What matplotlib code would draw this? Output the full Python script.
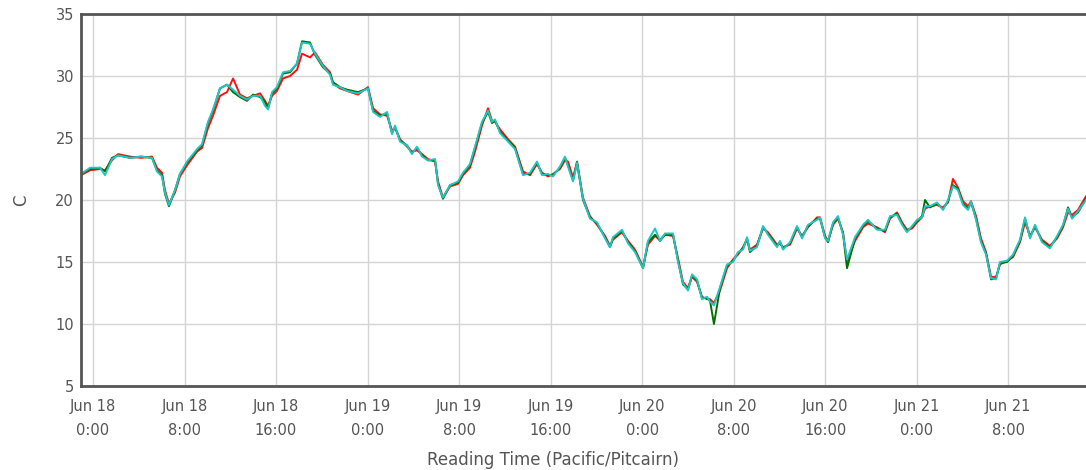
import datetime as dt
import matplotlib
matplotlib.use("Agg")
import matplotlib.pyplot as plt
import matplotlib.dates as mdates
from matplotlib.ticker import FuncFormatter, MultipleLocator

# hours after Jun 18 0:00
hours = [-1.05, -0.26, 0.61, 1.05, 1.66, 2.19, 3.23, 4.20, 5.16, 5.59,
         6.03, 6.29, 6.64, 7.17, 7.60, 8.22, 9.09, 9.53, 10.05, 10.49,
         11.10, 11.71, 12.24, 12.85, 13.46, 13.99, 14.60, 15.03, 15.30, 15.65,
         16.08, 16.61, 17.22, 17.83, 18.27, 18.97, 19.41, 20.10, 20.72, 20.98,
         21.59, 22.20, 23.16, 24.04, 24.48, 25.09, 25.70, 26.14, 26.40, 26.84,
         27.45, 27.88, 28.32, 28.76, 29.28, 29.90, 30.16, 30.59, 31.21, 31.91,
         32.34, 32.95, 33.39, 34.00, 34.53, 34.88, 35.14, 35.58, 36.28, 36.89,
         37.59, 38.20, 38.81, 39.25, 39.77, 40.21, 40.82, 41.26, 41.52, 41.96,
         42.31, 42.83, 43.44, 44.06, 44.76, 45.19, 45.45, 46.24, 46.77, 47.38,
         48.08, 48.51, 49.13, 49.56, 50.00, 50.70, 51.14, 51.57, 52.01, 52.36,
         52.80, 53.23, 53.67, 53.93, 54.28, 54.81, 55.42, 55.94, 56.38, 56.82,
         57.17, 57.43, 58.04, 58.57, 59.00, 59.79, 60.05, 60.31, 60.93, 61.54,
         61.98, 62.50, 63.29, 63.55, 63.99, 64.25, 64.69, 65.12, 65.56, 65.91,
         66.61, 67.31, 67.74, 68.53, 69.23, 69.67, 70.28, 70.72, 71.15, 71.59,
         72.03, 72.47, 72.73, 73.16, 73.78, 74.30, 74.74, 75.17, 75.61, 76.05,
         76.49, 76.75, 77.19, 77.62, 78.06, 78.50, 78.94, 79.28, 79.90, 80.42,
         81.03, 81.47, 81.91, 82.34, 82.95, 83.65, 84.27, 84.79, 85.23, 85.58,
         86.10, 86.80]

green = [22.1, 22.5, 22.6, 22.3, 23.4, 23.6, 23.4, 23.5, 23.4, 22.4,
         22.0, 20.5, 19.5, 20.8, 22.1, 23.0, 24.0, 24.4, 26.2, 27.2,
         29.0, 29.3, 28.7, 28.3, 28.0, 28.5, 28.3, 27.9, 27.4, 28.6,
         29.0, 30.2, 30.3, 31.0, 32.8, 32.7, 31.7, 30.7, 30.2, 29.5,
         29.1, 28.9, 28.7, 29.0, 27.2, 26.8, 27.0, 25.4, 25.9, 24.8,
         24.4, 23.8, 24.2, 23.6, 23.2, 23.2, 21.3, 20.1, 21.2, 21.4,
         22.1, 22.8, 24.2, 26.2, 27.1, 26.2, 26.4, 25.5, 24.8, 24.2,
         22.1, 22.1, 23.0, 22.1, 22.0, 22.0, 22.6, 23.4, 22.8, 21.6,
         23.0, 20.0, 18.6, 18.1, 17.0, 16.2, 16.9, 17.5, 16.6, 15.9,
         14.5, 16.6, 17.2, 16.7, 17.2, 17.2, 15.1, 13.2, 12.8, 13.9,
         13.5, 12.1, 12.1, 11.9, 10.0, 12.9, 14.7, 15.1, 15.7, 16.1,
         16.9, 15.8, 16.3, 17.8, 17.3, 16.3, 16.6, 16.1, 16.5, 17.8,
         17.0, 17.9, 18.5, 18.5, 17.0, 16.6, 18.1, 18.6, 17.3, 14.5,
         16.9, 17.9, 18.3, 17.7, 17.5, 18.6, 18.9, 18.1, 17.5, 17.8,
         18.3, 18.7, 20.0, 19.4, 19.7, 19.3, 19.9, 21.2, 20.9, 19.7,
         19.3, 19.8, 18.5, 16.7, 15.7, 13.6, 13.7, 14.9, 15.0, 15.5,
         16.7, 18.5, 17.0, 17.9, 16.7, 16.2, 17.0, 17.9, 19.4, 18.6,
         19.0, 20.1]

red = [22.0, 22.4, 22.5, 22.4, 23.2, 23.7, 23.5, 23.4, 23.5, 22.6,
       22.2, 20.8, 19.7, 20.6, 21.9, 22.8, 23.9, 24.2, 25.8, 26.8,
       28.4, 28.7, 29.8, 28.5, 28.2, 28.4, 28.6, 28.0, 27.6, 28.4,
       28.8, 29.8, 30.0, 30.5, 31.8, 31.5, 31.9, 30.9, 30.3, 29.4,
       29.0, 28.8, 28.5, 29.1, 27.4, 26.9, 26.8, 25.6, 25.8, 24.9,
       24.3, 23.9, 24.0, 23.7, 23.3, 23.1, 21.5, 20.2, 21.1, 21.3,
       22.0, 22.6, 23.9, 26.0, 27.4, 26.4, 26.3, 25.7, 24.9, 24.3,
       22.3, 22.0, 22.9, 22.2, 21.9, 22.1, 22.5, 23.2, 23.1, 21.8,
       23.1, 20.2, 18.7, 18.0, 17.1, 16.3, 16.8, 17.4, 16.7, 16.0,
       14.6, 16.4, 17.1, 16.8, 17.2, 17.1, 15.3, 13.4, 12.9, 13.8,
       13.4, 12.2, 12.0, 12.0, 11.7, 12.7, 14.5, 15.2, 15.6, 16.2,
       16.8, 16.0, 16.4, 17.7, 17.4, 16.4, 16.5, 16.2, 16.4, 17.7,
       17.1, 17.8, 18.6, 18.6, 17.1, 16.7, 18.0, 18.5, 17.4, 15.0,
       16.7, 17.8, 18.1, 17.8, 17.4, 18.5, 19.0, 18.2, 17.6, 17.7,
       18.2, 18.6, 19.3, 19.5, 19.6, 19.4, 19.8, 21.7, 21.0, 19.9,
       19.5, 19.9, 18.7, 16.9, 15.8, 13.8, 13.8, 14.8, 15.1, 15.4,
       16.6, 18.2, 17.1, 17.8, 16.8, 16.3, 16.9, 17.8, 19.0, 18.8,
       19.2, 20.3]

cyan = [22.1, 22.6, 22.6, 22.0, 23.3, 23.6, 23.4, 23.5, 23.4, 22.3,
        21.9, 20.6, 19.6, 20.8, 22.1, 23.1, 24.1, 24.5, 26.3, 27.3,
        29.0, 29.3, 28.9, 28.4, 28.1, 28.4, 28.4, 27.6, 27.3, 28.7,
        29.1, 30.3, 30.4, 31.0, 32.7, 32.6, 31.8, 30.8, 30.1, 29.3,
        29.1, 28.8, 28.6, 29.0, 27.1, 26.7, 27.1, 25.3, 26.0, 24.7,
        24.4, 23.7, 24.3, 23.5, 23.2, 23.3, 21.2, 20.2, 21.2, 21.5,
        22.2, 22.9, 24.3, 26.3, 27.2, 26.3, 26.5, 25.4, 24.7, 24.1,
        22.0, 22.2, 23.1, 22.0, 22.1, 21.9, 22.7, 23.5, 22.7, 21.5,
        23.0, 20.1, 18.5, 18.2, 16.9, 16.2, 17.0, 17.6, 16.5, 15.8,
        14.5, 16.7, 17.7, 16.7, 17.3, 17.3, 15.0, 13.3, 12.7, 14.0,
        13.6, 12.0, 12.2, 11.8, 11.5, 13.0, 14.8, 15.0, 15.8, 16.0,
        17.0, 15.9, 16.2, 17.9, 17.2, 16.2, 16.7, 16.0, 16.6, 17.9,
        16.9, 18.0, 18.4, 18.6, 16.9, 16.7, 18.2, 18.7, 17.2, 15.2,
        17.0, 18.0, 18.4, 17.6, 17.6, 18.7, 18.8, 18.0, 17.4, 17.9,
        18.4, 18.6, 19.5, 19.5, 19.8, 19.2, 20.0, 21.1, 20.8, 19.6,
        19.2, 19.9, 18.4, 16.6, 15.6, 13.7, 13.6, 15.0, 15.1, 15.6,
        16.8, 18.6, 16.9, 18.0, 16.6, 16.1, 17.1, 18.0, 19.3, 18.5,
        19.1, 20.0]

start = dt.datetime(2015, 6, 18, 0, 0)
times = [start + dt.timedelta(hours=h) for h in hours]

fig = plt.figure(figsize=(10.86, 4.70), dpi=100)
ax = fig.add_axes([81 / 1086, 1 - 386 / 470, 1 - 81 / 1086, (386 - 14) / 470])

ax.plot(times, red, color="#ff1010", lw=1.4)
ax.plot(times, green, color="#006f00", lw=1.4)
ax.plot(times, cyan, color="#22c4c4", lw=1.4)

ax.set_ylim(5, 35)
ax.yaxis.set_major_locator(MultipleLocator(5))
ax.set_xlim(start + dt.timedelta(hours=-1.05), start + dt.timedelta(hours=86.8))
ax.xaxis.set_major_locator(mdates.HourLocator(byhour=[0, 8, 16]))


def fmt_date(x, pos):
    d = mdates.num2date(x)
    return d.strftime("%b %d") + "\n" + f"{d.hour}:{d.minute:02d}"


ax.xaxis.set_major_formatter(FuncFormatter(fmt_date))

ax.grid(True, color="#d4d4d4", lw=1)
ax.set_axisbelow(True)
for s in ["left", "bottom", "top"]:
    ax.spines[s].set_color("#555555")
    ax.spines[s].set_linewidth(2)
ax.spines["right"].set_visible(False)

ax.tick_params(axis="x", length=0, labelsize=10.5, colors="#555555", pad=9)
ax.tick_params(axis="y", length=0, labelsize=10.5, colors="#555555", pad=5)
for lab in ax.get_xticklabels():
    lab.set_linespacing(1.8)
    lab.set_horizontalalignment("center")

ax.set_ylabel("C", fontsize=12, color="#555555", labelpad=18)
ax.set_xlabel("Reading Time (Pacific/Pitcairn)", fontsize=12, color="#555555")
ax.xaxis.set_label_coords((553 - 81) / 1005, -0.175)

fig.savefig("out.png", dpi=100)
